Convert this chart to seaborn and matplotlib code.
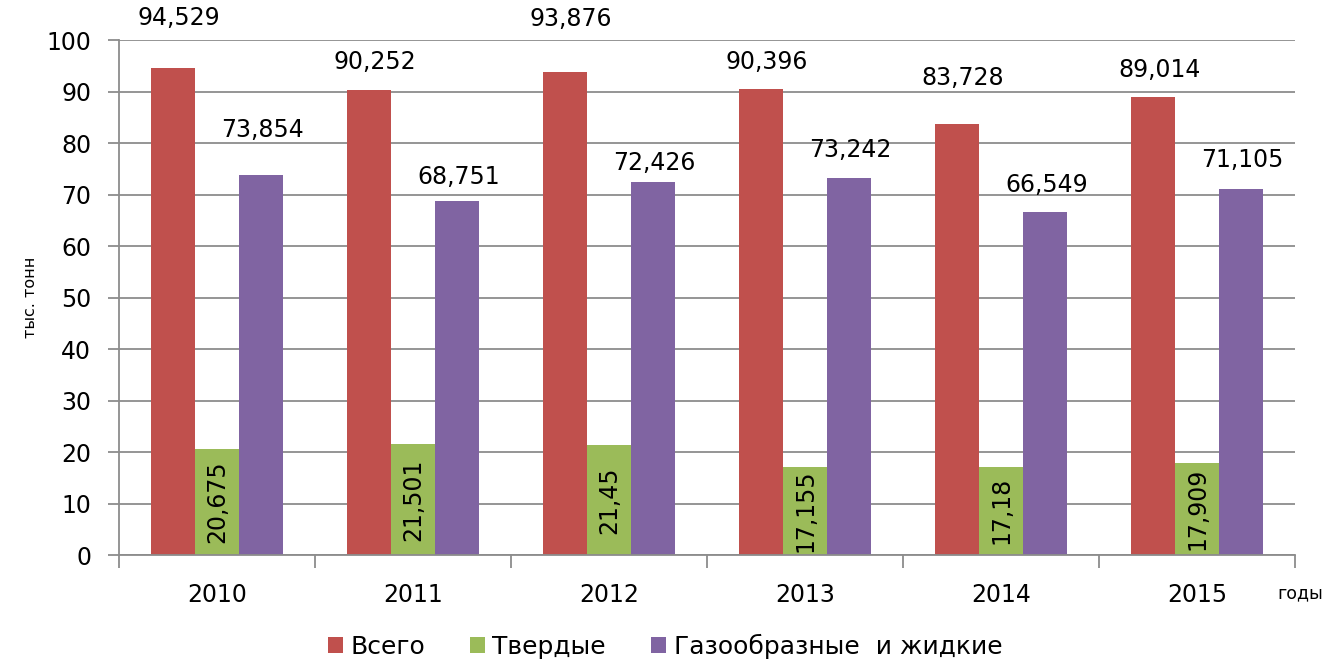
import pandas as pd
import matplotlib
matplotlib.use('Agg')
import matplotlib.pyplot as plt
import seaborn as sns

years = ['2010', '2011', '2012', '2013', '2014', '2015']
series = ['Всего', 'Твердые', 'Газообразные  и жидкие']
total = [94.529, 90.252, 93.876, 90.396, 83.728, 89.014]
solid = [20.675, 21.501, 21.45, 17.155, 17.18, 17.909]
gas_liquid = [73.854, 68.751, 72.426, 73.242, 66.549, 71.105]
total_labels = ['94,529', '90,252', '93,876', '90,396', '83,728', '89,014']
solid_labels = ['20,675', '21,501', '21,45', '17,155', '17,18', '17,909']
gas_labels = ['73,854', '68,751', '72,426', '73,242', '66,549', '71,105']

colors = ['#C0504D', '#9BBB59', '#8064A2']
# label offsets above bars (pixels), as placed in the original
total_pad = [50, 28, 53, 27, 46, 27]
gas_pad = [45, 24, 19, 28, 27, 29]

df = pd.DataFrame({
    'year': years * 3,
    'value': total + solid + gas_liquid,
    'type': [series[0]] * 6 + [series[1]] * 6 + [series[2]] * 6,
})

sns.set_style('white')
plt.rcParams['font.family'] = ['DejaVu Sans']
plt.rcParams['text.color'] = 'black'
plt.rcParams['axes.labelcolor'] = 'black'
plt.rcParams['xtick.color'] = 'black'
plt.rcParams['ytick.color'] = 'black'

fig = plt.figure(figsize=(13.3, 6.65), dpi=100)
ax = fig.add_axes([0.0895, 0.1654, 0.8842, 0.7744])
sns.barplot(data=df, x='year', y='value', hue='type', palette=colors,
            width=0.67, saturation=1, ax=ax, legend=True, errorbar=None,
            linewidth=0, edgecolor='none')

ax.set_ylim(0, 100)
ax.set_xlim(-0.5, 5.5)
ax.set_yticks(range(0, 101, 10))
ax.grid(axis='y', color='#8c8c8c', linewidth=1.3)
ax.set_axisbelow(True)
for s in ['top', 'right']:
    ax.spines[s].set_visible(False)
for s in ['left', 'bottom']:
    ax.spines[s].set_color('#8c8c8c')
    ax.spines[s].set_linewidth(1.3)
ax.tick_params(axis='y', left=True, labelsize=17, length=8, color='#8c8c8c',
               labelcolor='black', width=1.3, pad=12)
ax.tick_params(axis='x', which='major', labelsize=17, length=0, pad=20,
               labelcolor='black')
ax.set_xticks([i - 0.5 for i in range(7)], minor=True)
ax.tick_params(axis='x', which='minor', bottom=True, length=9, color='#8c8c8c', width=1.3)
ax.set_xlabel('')
ax.set_ylabel('тыс. тонн', fontsize=11.5, labelpad=6)

c_total, c_solid, c_gas = ax.containers[:3]
for bar, lab, pad in zip(c_total, total_labels, total_pad):
    ax.annotate(lab, (bar.get_x() + bar.get_width() / 2 + 0.03, bar.get_height()),
                xytext=(0, pad), textcoords='offset pixels',
                ha='center', va='center', fontsize=17)
for bar, lab, pad in zip(c_gas, gas_labels, gas_pad):
    ax.annotate(lab, (bar.get_x() + bar.get_width() / 2 + 0.01, bar.get_height()),
                xytext=(0, pad), textcoords='offset pixels',
                ha='center', va='center', fontsize=17)
ax.bar_label(c_solid, labels=solid_labels, label_type='center',
             rotation=90, fontsize=17)

fig.text(0.978, 0.108, 'годы', fontsize=12.5, ha='center', va='center')

handles, labels = ax.get_legend_handles_labels()
ax.get_legend().remove()
fig.legend(handles, labels, loc='center', bbox_to_anchor=(0.5, 0.028), ncol=3,
           frameon=False, fontsize=18, handlelength=0.6, handleheight=0.6,
           handletextpad=0.3, columnspacing=1.8)

plt.savefig('out.png', dpi=100)
